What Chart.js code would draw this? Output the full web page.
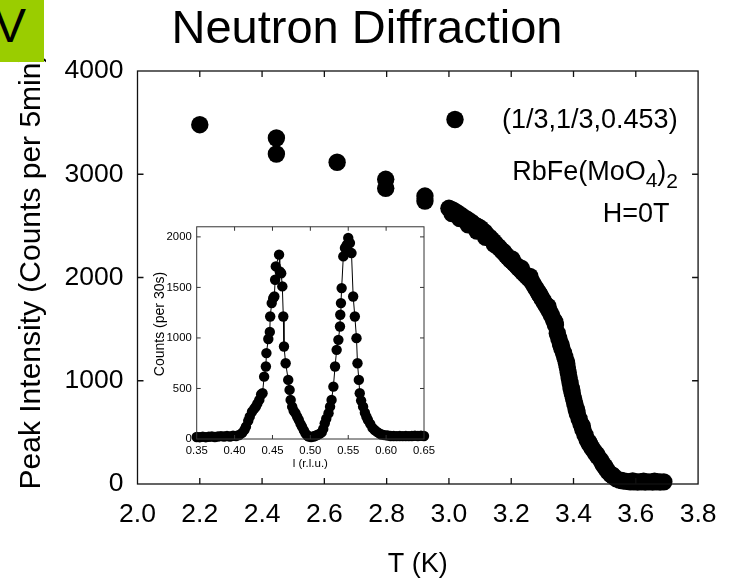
<!DOCTYPE html>
<html>
<head>
<meta charset="utf-8">
<title>Neutron Diffraction</title>
<script src="https://cdn.jsdelivr.net/npm/chart.js@4.4.1/dist/chart.umd.min.js"></script>
<style>
  body { margin: 0; background: #fff; }
  #wrap { position: relative; width: 731px; height: 582px; overflow: hidden; }
  canvas { position: absolute; }
  #mainChart { left: 0; top: 0; }
  #insetChart { left: 140px; top: 215px; }
  #tag { position: absolute; left: 0; top: 0; width: 44px; height: 62px; background: #9acd00; overflow: hidden; }
  #tag span { position: absolute; left: -6px; top: 2px; font: 48px 'Liberation Sans', Arial, sans-serif; line-height: 1; color: #000; }
</style>
</head>
<body>
<div id="wrap">
  <canvas id="mainChart" width="731" height="582"></canvas>
  <canvas id="insetChart" width="300" height="265"></canvas>
  <div id="tag"><span>V</span></div>
</div>
<script>
const FONT = "'Liberation Sans', Arial, sans-serif";

// main panel: peak intensity of (1/3,1/3,0.453) vs temperature
const tempK = [
  2.2, 2.446, 2.446, 2.641, 2.797, 2.797, 2.923, 2.923,
  3.000, 3.006, 3.012, 3.018, 3.025, 3.032, 3.040, 3.046, 3.052, 3.060,
  3.066, 3.072, 3.080, 3.088, 3.095, 3.102, 3.108, 3.115, 3.122, 3.130,
  3.136, 3.143, 3.150, 3.157, 3.163, 3.170, 3.177, 3.184, 3.190, 3.197,
  3.204, 3.210, 3.217, 3.224, 3.230, 3.237, 3.244, 3.250, 3.257, 3.263,
  3.270, 3.276, 3.282, 3.288, 3.294, 3.300, 3.306, 3.312, 3.318, 3.324,
  3.330, 3.336, 3.342, 3.348, 3.353, 3.358, 3.363, 3.368, 3.372, 3.376,
  3.380, 3.383, 3.386, 3.389, 3.392, 3.396, 3.400, 3.404, 3.408, 3.412,
  3.418, 3.424, 3.430, 3.437, 3.444, 3.452, 3.460, 3.468, 3.477, 3.487,
  3.495, 3.503, 3.511, 3.520, 3.529, 3.538, 3.548, 3.558, 3.570, 3.582,
  3.594, 3.606, 3.618, 3.630, 3.642, 3.654, 3.666, 3.678, 3.690,
  // second, slightly offset scan that thickens the band
  3.010, 3.035, 3.062, 3.090, 3.118, 3.146, 3.174, 3.202, 3.232, 3.260,
  3.290, 3.318, 3.340, 3.360, 3.378, 3.394, 3.410, 3.428, 3.450, 3.475,
  3.500, 3.525, 3.555, 3.590, 3.625, 3.660
];
const peakCounts = [
  3480, 3351, 3196, 3116, 2951, 2864, 2789, 2741,
  2670, 2660, 2655, 2640, 2630, 2610, 2600, 2580, 2575, 2560,
  2540, 2535, 2515, 2500, 2490, 2475, 2450, 2440, 2410, 2390,
  2370, 2350, 2325, 2300, 2285, 2260, 2240, 2215, 2195, 2170,
  2155, 2135, 2115, 2090, 2075, 2050, 2030, 2010, 1990, 1975,
  1940, 1910, 1880, 1850, 1820, 1790, 1760, 1730, 1700, 1665,
  1630, 1590, 1540, 1460, 1410, 1360, 1310, 1270, 1230, 1190,
  1130, 1080, 1030, 980, 930, 880, 830, 780, 730, 685,
  630, 580, 530, 475, 425, 385, 345, 310, 270, 232,
  190, 155, 120, 92, 71, 50, 38, 30, 25, 22,
  22, 20, 22, 20, 21, 20, 22, 20, 21,
  2620, 2570, 2510, 2450, 2390, 2320, 2250, 2180, 2090, 2010,
  1840, 1720, 1570, 1345, 1170, 915, 720, 560, 400, 285,
  170, 85, 35, 30, 28, 26
];
const yTicksMain = [0, 1000, 2000, 3000, 4000];

// inset: l-scan at base temperature
const lRlu = [
  0.350, 0.354, 0.358, 0.362, 0.366, 0.370, 0.374, 0.378, 0.382, 0.386,
  0.390, 0.394, 0.398, 0.402, 0.406, 0.410, 0.413, 0.415, 0.418, 0.420,
  0.423, 0.426, 0.428, 0.430, 0.4326, 0.435, 0.4369, 0.439, 0.4413, 0.442,
  0.4445, 0.4465, 0.447, 0.449, 0.451, 0.4525, 0.4535, 0.4544, 0.4587, 0.4596,
  0.4615, 0.463, 0.4643, 0.4652, 0.4674, 0.4708, 0.4726, 0.474, 0.476, 0.478,
  0.4804, 0.4826, 0.4848, 0.487, 0.489, 0.4915, 0.4935, 0.496, 0.498, 0.501,
  0.504, 0.506, 0.509, 0.512, 0.515, 0.517, 0.519, 0.521, 0.524, 0.526,
  0.528, 0.5304, 0.5326, 0.5347, 0.537, 0.5391, 0.5395, 0.5404, 0.5413, 0.5435,
  0.5457, 0.548, 0.550, 0.5522, 0.5543, 0.5565, 0.5587, 0.5609, 0.5622, 0.564,
  0.5652, 0.567, 0.5696, 0.572, 0.574, 0.576, 0.579, 0.582, 0.5848, 0.588,
  0.591, 0.594, 0.598, 0.602, 0.606, 0.610, 0.614, 0.618, 0.622, 0.626,
  0.630, 0.634, 0.638, 0.642, 0.646, 0.650
];
const counts30s = [
  20, 18, 22, 18, 22, 25, 20, 25, 28, 25,
  30, 25, 32, 30, 40, 60, 90, 122, 180, 221,
  270, 300, 320, 350, 387, 440, 453, 617, 717, 850,
  990, 1060, 1212, 1345, 1394, 1410, 1576, 1708, 1824, 1658,
  1640, 1510, 1212, 915, 750, 585, 486, 387, 320, 280,
  255, 220, 188, 150, 122, 85, 56, 35, 25, 20,
  25, 30, 40, 50, 65, 100, 155, 200, 255, 320,
  387, 518, 717, 882, 981, 1113, 1230, 1345, 1493, 1807,
  1890, 1920, 1989, 1940, 1840, 1410, 1212, 998, 750, 585,
  453, 380, 320, 260, 220, 188, 150, 110, 89, 70,
  55, 45, 38, 35, 30, 30, 28, 30, 28, 30,
  28, 30, 32, 30, 32, 30
];
const yTicksInset = [0, 500, 1000, 1500, 2000];

function frameAndTicks(chart, len, color, width) {
  const { ctx, chartArea: a, scales: { x, y } } = chart;
  ctx.save();
  ctx.strokeStyle = color;
  ctx.lineWidth = width;
  ctx.strokeRect(a.left, a.top, a.right - a.left, a.bottom - a.top);
  ctx.beginPath();
  x.ticks.forEach(t => {
    const px = x.getPixelForValue(t.value);
    if (px <= a.left + 1 || px >= a.right - 1) return;
    ctx.moveTo(px, a.bottom); ctx.lineTo(px, a.bottom - len);
    ctx.moveTo(px, a.top); ctx.lineTo(px, a.top + len);
  });
  y.ticks.forEach(t => {
    const py = y.getPixelForValue(t.value);
    if (py <= a.top + 1 || py >= a.bottom - 1) return;
    ctx.moveTo(a.left, py); ctx.lineTo(a.left + len, py);
    ctx.moveTo(a.right, py); ctx.lineTo(a.right - len, py);
  });
  ctx.stroke();
  ctx.restore();
}

const mainDecor = {
  id: 'mainDecor',
  afterDraw(chart) {
    const ctx = chart.ctx;
    frameAndTicks(chart, 6, '#111', 1.3);
    ctx.save();
    ctx.fillStyle = '#000';
    // title
    ctx.font = '47px ' + FONT;
    ctx.textAlign = 'center';
    ctx.textBaseline = 'alphabetic';
    ctx.fillText('Neutron Diffraction', 367, 42.7);
    // y axis title
    ctx.save();
    ctx.translate(32, 271);
    ctx.rotate(-Math.PI / 2);
    ctx.font = '30px ' + FONT;
    ctx.textBaseline = 'middle';
    ctx.fillText('Peak Intensity (Counts per 5min)', 0, 0);
    ctx.restore();
    // legend
    ctx.beginPath();
    ctx.arc(455, 119.5, 8.7, 0, Math.PI * 2);
    ctx.fill();
    ctx.font = '27px ' + FONT;
    ctx.textAlign = 'left';
    ctx.textBaseline = 'middle';
    ctx.fillText('(1/3,1/3,0.453)', 502, 120.5);
    // compound name with subscripts
    ctx.textBaseline = 'alphabetic';
    const parts = [['RbFe(MoO', 27, 180], ['4', 21, 187], [')', 27, 180], ['2', 21, 188]];
    let w = 0;
    parts.forEach(p => { ctx.font = p[1] + 'px ' + FONT; w += ctx.measureText(p[0]).width; });
    let cx = 678 - w;
    parts.forEach(p => {
      ctx.font = p[1] + 'px ' + FONT;
      ctx.fillText(p[0], cx, p[2]);
      cx += ctx.measureText(p[0]).width;
    });
    ctx.font = '27px ' + FONT;
    ctx.textAlign = 'right';
    ctx.fillText('H=0T', 669.5, 221.5);
    ctx.restore();
  }
};

new Chart(document.getElementById('mainChart'), {
  type: 'scatter',
  data: {
    datasets: [{
      data: tempK.map((t, i) => ({ x: t, y: peakCounts[i] })),
      pointRadius: 8.7,
      pointHoverRadius: 8.7,
      pointBackgroundColor: '#000',
      pointBorderWidth: 0,
      clip: false
    }]
  },
  options: {
    responsive: false,
    animation: false,
    devicePixelRatio: 1,
    events: [],
    layout: { padding: { top: 71, right: 31.5, bottom: 0, left: 0 } },
    plugins: { legend: { display: false }, tooltip: { enabled: false } },
    scales: {
      x: {
        type: 'linear', min: 2, max: 3.8,
        grid: { display: false, drawTicks: false },
        border: { display: false },
        ticks: {
          stepSize: 0.2, padding: 14.5, color: '#000', maxRotation: 0, autoSkip: false,
          font: { family: FONT, size: 26.5 },
          callback: v => v.toFixed(1)
        },
        title: { display: true, text: 'T (K)', color: '#000', font: { family: FONT, size: 27 }, padding: { top: 0, bottom: 1 } },
        afterFit: s => { s.height = 98; }
      },
      y: {
        min: 0, max: 4000,
        grid: { display: false, drawTicks: false },
        border: { display: false },
        afterBuildTicks: s => { s.ticks = yTicksMain.map(v => ({ value: v })); },
        ticks: { padding: 14, color: '#000', font: { family: FONT, size: 26.5 }, callback: v => String(v) },
        afterFit: s => { s.width = 137.5; }
      }
    }
  },
  plugins: [mainDecor]
});

const insetDecor = {
  id: 'insetDecor',
  afterDraw(chart) {
    const ctx = chart.ctx;
    frameAndTicks(chart, 4, '#333', 1);
    ctx.save();
    ctx.fillStyle = '#000';
    ctx.translate(20, 109);
    ctx.rotate(-Math.PI / 2);
    ctx.font = '14px ' + FONT;
    ctx.textAlign = 'center';
    ctx.textBaseline = 'middle';
    ctx.fillText('Counts (per 30s)', 0, 0);
    ctx.restore();
  }
};

new Chart(document.getElementById('insetChart'), {
  type: 'scatter',
  data: {
    datasets: [{
      data: lRlu.map((l, i) => ({ x: l, y: counts30s[i] })),
      showLine: true,
      borderColor: '#000',
      borderWidth: 1,
      pointRadius: 5.2,
      pointHoverRadius: 5.2,
      pointBackgroundColor: '#000',
      pointBorderWidth: 0,
      clip: false
    }]
  },
  options: {
    responsive: false,
    animation: false,
    devicePixelRatio: 1,
    events: [],
    layout: { padding: { top: 11.7, right: 13.3, bottom: 0, left: 0 } },
    plugins: { legend: { display: false }, tooltip: { enabled: false } },
    scales: {
      x: {
        type: 'linear', min: 0.35, max: 0.65,
        grid: { display: false, drawTicks: false },
        border: { display: false },
        ticks: {
          stepSize: 0.05, padding: 5, color: '#000', maxRotation: 0, autoSkip: false,
          font: { family: FONT, size: 11.3 },
          callback: v => v.toFixed(2)
        },
        title: { display: true, text: 'l (r.l.u.)', color: '#000', font: { family: FONT, size: 11.5 }, padding: { top: 0, bottom: 9 } },
        afterFit: s => { s.height = 41; }
      },
      y: {
        min: 0, max: 2100,
        grid: { display: false, drawTicks: false },
        border: { display: false },
        afterBuildTicks: s => { s.ticks = yTicksInset.map(v => ({ value: v })); },
        ticks: { padding: 5, color: '#000', font: { family: FONT, size: 11.3 }, callback: v => String(v) },
        afterFit: s => { s.width = 56.7; }
      }
    }
  },
  plugins: [insetDecor]
});
</script>
</body>
</html>
